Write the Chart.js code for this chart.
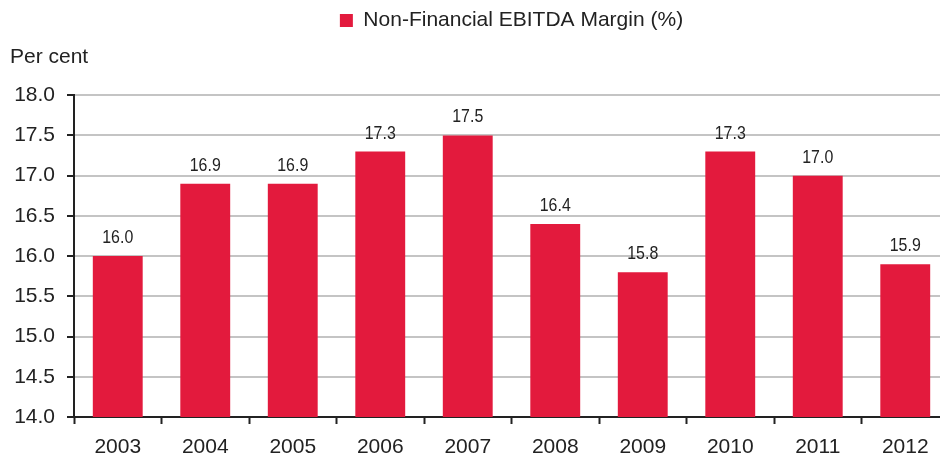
<!DOCTYPE html>
<html>
<head>
<meta charset="utf-8">
<title>Non-Financial EBITDA Margin</title>
<script src="https://cdn.jsdelivr.net/npm/chart.js@4/dist/chart.umd.min.js"></script>
<style>
  html, body { margin: 0; padding: 0; background: #fff; overflow: hidden; }
  #chart { display: block; }
</style>
</head>
<body>
<canvas id="chart" width="960" height="461"></canvas>
<script>
const years = ['2003', '2004', '2005', '2006', '2007', '2008', '2009', '2010', '2011', '2012'];
const ebitdaMargin = [16.0, 16.9, 16.9, 17.3, 17.5, 16.4, 15.8, 17.3, 17.0, 15.9];
const seriesLabel = 'Non-Financial EBITDA Margin (%)';
const axisTitle = 'Per cent';
const yMin = 14, yMax = 18, yStep = 0.5;

const BAR_RED = '#E31A3D';
const INK = '#222222';
const FONT = "'Liberation Sans', Arial, sans-serif";

// value labels above each bar, squeezed horizontally for a narrow look
const barValueLabels = {
    id: 'barValueLabels',
    afterDatasetsDraw(chart) {
        const {ctx} = chart;
        const meta = chart.getDatasetMeta(0);
        const squeeze = 0.86;
        ctx.save();
        ctx.font = "18.5px " + FONT;
        ctx.fillStyle = INK;
        ctx.textAlign = 'center';
        ctx.textBaseline = 'alphabetic';
        meta.data.forEach((bar, i) => {
            const v = chart.data.datasets[0].data[i];
            ctx.save();
            ctx.translate(bar.x, bar.y - 13);
            ctx.scale(squeeze, 1);
            ctx.fillText(v.toFixed(1), 0, 0);
            ctx.restore();
        });
        ctx.restore();
    }
};

Chart.defaults.font.family = FONT;
Chart.defaults.color = INK;

new Chart(document.getElementById('chart').getContext('2d'), {
    type: 'bar',
    data: {
        labels: years,
        datasets: [{
            label: seriesLabel,
            data: ebitdaMargin,
            backgroundColor: BAR_RED,
            borderWidth: 0,
            barPercentage: 0.57,
            categoryPercentage: 1
        }]
    },
    plugins: [barValueLabels],
    options: {
        responsive: false,
        animation: false,
        devicePixelRatio: 1,
        layout: { padding: { left: 10, right: 11, top: 0, bottom: 0 } },
        scales: {
            x: {
                grid: { drawOnChartArea: false, drawTicks: true, tickLength: 7, tickColor: INK, tickWidth: 2, offset: true },
                border: { color: INK, width: 2 },
                ticks: { font: { size: 21 }, color: INK, padding: 11, maxRotation: 0 },
                afterFit: (scale) => { scale.height = 44; }
            },
            y: {
                min: yMin,
                max: yMax,
                grid: { color: '#c4c4c4', lineWidth: 2, tickLength: 7, tickColor: INK, tickWidth: 2 },
                border: { color: INK, width: 2 },
                ticks: { stepSize: yStep, font: { size: 21 }, color: INK, padding: 12, callback: (v) => v.toFixed(1) },
                afterFit: (scale) => { scale.width = 64; }
            }
        },
        plugins: {
            legend: {
                display: true,
                position: 'top',
                fullSize: false,
                labels: { boxWidth: 13, boxHeight: 13, padding: 10, font: { size: 21 }, color: INK }
            },
            title: {
                display: true,
                text: axisTitle,
                align: 'start',
                weight: 500,
                font: { size: 21, weight: 'normal' },
                color: INK,
                padding: { top: 4, bottom: 25 }
            },
            tooltip: { enabled: false }
        }
    }
});
</script>
</body>
</html>
